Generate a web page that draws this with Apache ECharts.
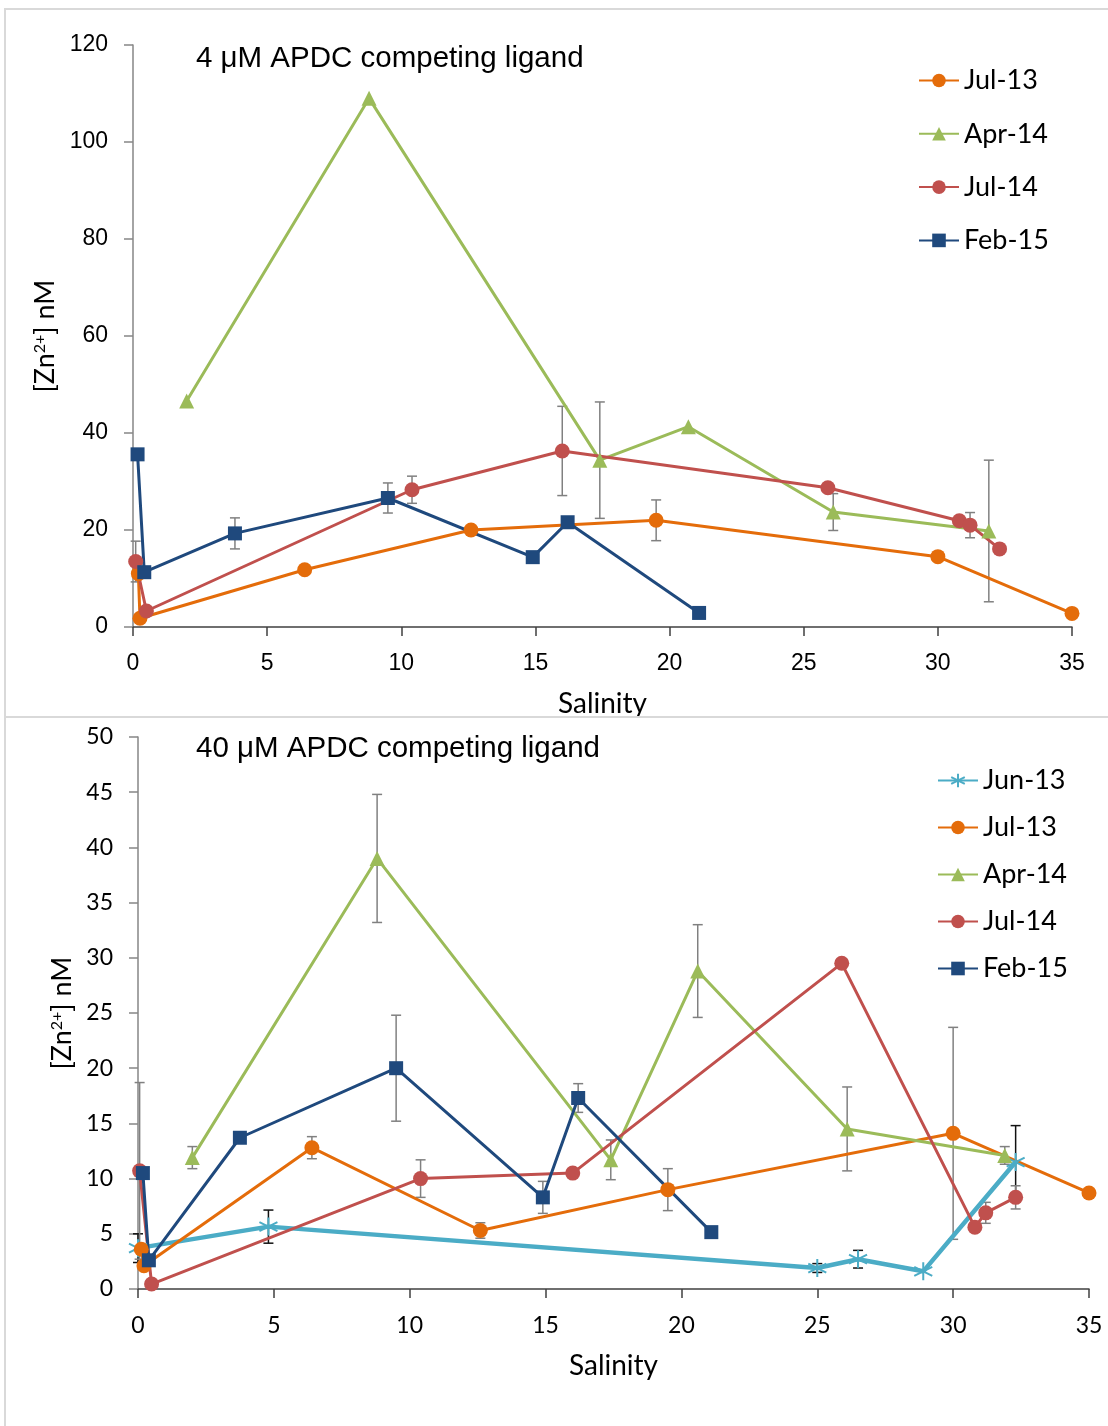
<!DOCTYPE html>
<html>
<head>
<meta charset="utf-8">
<script src="https://cdn.jsdelivr.net/npm/echarts@6/dist/echarts.min.js"></script>
<style>
  html, body { margin: 0; padding: 0; background: #fff; }
  #chart { width: 1108px; height: 1426px; }
</style>
</head>
<body>
<div id="chart"></div>
<script>
// ---- 4 uM APDC (top panel) ----
const topJul13X = [0.2, 0.26, 6.4, 12.6, 19.5, 30, 35]
const topJul13Y = [11, 1.8, 11.8, 20, 22, 14.5, 2.8]
const topJul13Err = [0, 0, 0, 0, 4.2, 0, 0]

const topApr14X = [2, 8.8, 17.4, 20.7, 26.1, 31.9]
const topApr14Y = [46.6, 109, 34.4, 41.3, 23.7, 19.8]
const topApr14Err = [0, 0, 12, 0, 3.8, 14.6]

const topJul14X = [0.1, 0.5, 10.4, 16, 25.9, 30.8, 31.2, 32.3]
const topJul14Y = [13.5, 3.3, 28.3, 36.3, 28.7, 21.9, 21, 16.1]
const topJul14Err = [4.2, 0, 2.8, 9.2, 0, 0, 2.6, 0]

const topFeb15X = [0.17, 0.42, 3.8, 9.5, 14.9, 16.2, 21.1]
const topFeb15Y = [35.6, 11.3, 19.3, 26.6, 14.4, 21.6, 2.9]
const topFeb15Err = [0, 0, 3.2, 3.1, 0, 0, 0]

// ---- 40 uM APDC (bottom panel) ----
const botJun13X = [0, 4.8, 25, 26.5, 28.9, 32.3]
const botJun13Y = [3.7, 5.65, 1.9, 2.7, 1.6, 11.5]
const botJun13Err = [1.3, 1.5, 0.4, 0.8, 0, 3.3]

const botJul13X = [0.12, 0.22, 6.4, 12.6, 19.5, 30, 35]
const botJul13Y = [3.6, 2.1, 12.8, 5.3, 9, 14.1, 8.7]
const botJul13Err = [0, 0, 1, 0.7, 1.9, 9.6, 0]

const botApr14X = [2, 8.8, 17.4, 20.6, 26.1, 31.9]
const botApr14Y = [11.9, 39, 11.7, 28.8, 14.5, 12.1]
const botApr14Err = [1, 5.8, 1.8, 4.2, 3.8, 0.8]

const botJul14X = [0.06, 0.5, 10.4, 16, 25.9, 30.8, 31.2, 32.3]
const botJul14Y = [10.7, 0.45, 10, 10.5, 29.5, 5.6, 6.9, 8.3]
const botJul14Err = [8, 0, 1.7, 0, 0, 0, 0.95, 1.05]

const botFeb15X = [0.18, 0.4, 3.75, 9.5, 14.9, 16.2, 21.1]
const botFeb15Y = [10.5, 2.6, 13.7, 20, 8.3, 17.3, 5.15]
const botFeb15Err = [0, 0, 0, 4.8, 1.45, 1.3, 0]

const topLegend = ['Jul-13', 'Apr-14', 'Jul-14', 'Feb-15']
const botLegend = ['Jun-13', 'Jul-13', 'Apr-14', 'Jul-14', 'Feb-15']

const C_ORANGE = '#E46C0A'
const C_GREEN = '#9BBB59'
const C_RED = '#C0504D'
const C_BLUE = '#1F497D'
const C_CYAN = '#4BACC6'

const LABEL_FONT = 'Lato'

function pts (xs, ys) {
  return xs.map((v, i) => [v, ys[i]])
}

// rows for the error bar series: [x, y, err, dark]
function errRows (xs, ys, es, dark) {
  const rows = []
  es.forEach((e, i) => {
    if (e > 0) rows.push([xs[i], ys[i], e, dark ? 1 : 0])
  })
  return rows
}

function renderErr (params, api) {
  const x = api.value(0)
  const y = api.value(1)
  const e = api.value(2)
  const hi = api.coord([x, y + e])
  const lo = api.coord([x, y - e])
  const w = 5
  const style = { stroke: api.value(3) ? '#111' : '#808080', lineWidth: 1.5 }
  return {
    type: 'group',
    children: [
      { type: 'line', shape: { x1: hi[0], y1: hi[1], x2: lo[0], y2: lo[1] }, style },
      { type: 'line', shape: { x1: hi[0] - w, y1: hi[1], x2: hi[0] + w, y2: hi[1] }, style },
      { type: 'line', shape: { x1: lo[0] - w, y1: lo[1], x2: lo[0] + w, y2: lo[1] }, style }
    ]
  }
}

function lineSeries (name, idx, data, color, symbol, size, width) {
  return {
    name: name,
    type: 'line',
    xAxisIndex: idx,
    yAxisIndex: idx,
    data: data,
    symbol: symbol,
    symbolSize: size,
    showAllSymbol: true,
    z: 3,
    lineStyle: { color: color, width: width || 3 },
    itemStyle: { color: color }
  }
}

// asterisk marker (X plus vertical stroke)
const STAR = 'path://M0,-10L0,10M-8.7,-5L8.7,5M-8.7,5L8.7,-5'

function xAxisCfg (idx, labelFont, size) {
  return {
    type: 'value',
    gridIndex: idx,
    min: 0,
    max: 35,
    interval: 5,
    name: 'Salinity',
    nameLocation: 'middle',
    nameGap: 63,
    nameTextStyle: { fontFamily: LABEL_FONT, fontSize: 28, color: '#000' },
    axisLine: { show: true, onZero: false, lineStyle: { color: '#404040', width: 1.5 } },
    axisTick: { show: true, length: 9, lineStyle: { color: '#404040', width: 1.5 } },
    axisLabel: { margin: 25, fontFamily: labelFont, fontSize: size, color: '#000' },
    splitLine: { show: false }
  }
}

function yAxisCfg (idx, max, interval, labelFont, size, gap) {
  return {
    type: 'value',
    gridIndex: idx,
    min: 0,
    max: max,
    interval: interval,
    name: '[Zn{sup|2+}] nM',
    nameLocation: 'middle',
    nameGap: gap,
    nameRotate: 90,
    nameTextStyle: {
      fontFamily: LABEL_FONT,
      fontSize: 27,
      color: '#000',
      rich: {
        sup: { fontFamily: LABEL_FONT, fontSize: 16, color: '#000', verticalAlign: 'top', padding: [0, 0, 10, 0] }
      }
    },
    axisLine: { show: true, onZero: false, lineStyle: { color: '#868686', width: 1.5 } },
    axisTick: { show: true, length: 9, lineStyle: { color: '#868686', width: 1.5 } },
    axisLabel: { margin: 25, fontFamily: labelFont, fontSize: size, color: '#000' },
    splitLine: { show: false }
  }
}

const legendText = { fontFamily: LABEL_FONT, fontSize: 27, lineHeight: 26, color: '#000' }

const option = {
  backgroundColor: '#fff',
  animation: false,
  graphic: [
    { type: 'rect', left: 4, top: 8, z: -10, shape: { width: 1120, height: 708 }, style: { fill: '#fff', stroke: '#d9d9d9', lineWidth: 2 } },
    { type: 'rect', left: 4, top: 716, z: 100, shape: { width: 1120, height: 720 }, style: { fill: 'rgba(0,0,0,0)', stroke: '#d9d9d9', lineWidth: 2 } },
    { type: 'rect', left: 5, top: 717, z: 99, shape: { width: 1100, height: 8 }, style: { fill: '#fff' } },
    { type: 'text', left: 196, top: 44, style: { text: '4 μM APDC competing ligand', font: '29.5px "Liberation Sans"', fill: '#000' } },
    { type: 'text', left: 196, top: 734, style: { text: '40 μM APDC competing ligand', font: '29.5px "Liberation Sans"', fill: '#000' } }
  ],
  legend: [
    {
      data: topLegend,
      orient: 'vertical',
      left: 918,
      top: 67,
      padding: 0,
      itemWidth: 40,
      itemHeight: 17,
      itemGap: 26.3,
      itemTextGap: 3,
      textStyle: legendText
    },
    {
      data: botLegend,
      orient: 'vertical',
      left: 937,
      top: 767,
      padding: 0,
      itemWidth: 40,
      itemHeight: 17,
      itemGap: 20,
      itemTextGap: 3,
      textStyle: legendText
    }
  ],
  grid: [
    { left: 133, right: 36, top: 45, bottom: 799, containLabel: false },
    { left: 138, right: 19, top: 737, bottom: 137, containLabel: false }
  ],
  xAxis: [xAxisCfg(0, 'Liberation Sans', 23), xAxisCfg(1, LABEL_FONT, 23)],
  yAxis: [yAxisCfg(0, 120, 20, 'Liberation Sans', 23, 74), yAxisCfg(1, 50, 5, LABEL_FONT, 23, 62)],
  series: [
    {
      type: 'custom',
      xAxisIndex: 0,
      yAxisIndex: 0,
      z: 2,
      renderItem: renderErr,
      encode: { x: 0, y: 1 },
      data: [].concat(
        errRows(topJul13X, topJul13Y, topJul13Err),
        errRows(topApr14X, topApr14Y, topApr14Err),
        errRows(topJul14X, topJul14Y, topJul14Err),
        errRows(topFeb15X, topFeb15Y, topFeb15Err)
      )
    },
    lineSeries('Jul-13', 0, pts(topJul13X, topJul13Y), C_ORANGE, 'circle', 15),
    lineSeries('Apr-14', 0, pts(topApr14X, topApr14Y), C_GREEN, 'triangle', 15),
    lineSeries('Jul-14', 0, pts(topJul14X, topJul14Y), C_RED, 'circle', 15),
    lineSeries('Feb-15', 0, pts(topFeb15X, topFeb15Y), C_BLUE, 'rect', 14),
    {
      type: 'custom',
      xAxisIndex: 1,
      yAxisIndex: 1,
      z: 2,
      renderItem: renderErr,
      encode: { x: 0, y: 1 },
      data: [].concat(
        errRows(botJun13X, botJun13Y, botJun13Err, true),
        errRows(botJul13X, botJul13Y, botJul13Err),
        errRows(botApr14X, botApr14Y, botApr14Err),
        errRows(botJul14X, botJul14Y, botJul14Err),
        errRows(botFeb15X, botFeb15Y, botFeb15Err)
      )
    },
    Object.assign(lineSeries('Jun-13', 1, pts(botJun13X, botJun13Y), C_CYAN, STAR, 18, 4.5), {
      itemStyle: { color: C_CYAN, borderColor: C_CYAN, borderWidth: 2 }
    }),
    lineSeries('Jul-13', 1, pts(botJul13X, botJul13Y), C_ORANGE, 'circle', 15),
    lineSeries('Apr-14', 1, pts(botApr14X, botApr14Y), C_GREEN, 'triangle', 15),
    lineSeries('Jul-14', 1, pts(botJul14X, botJul14Y), C_RED, 'circle', 15),
    lineSeries('Feb-15', 1, pts(botFeb15X, botFeb15Y), C_BLUE, 'rect', 14)
  ]
}

const myChart = echarts.init(document.getElementById('chart'), null, { renderer: 'canvas' })
myChart.setOption(option)
</script>
</body>
</html>
